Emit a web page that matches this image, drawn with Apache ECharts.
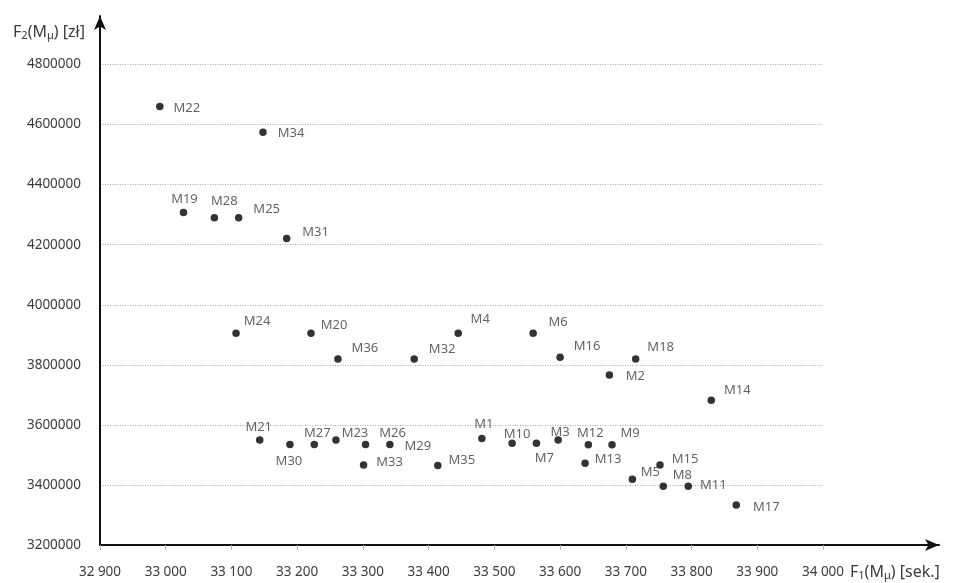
<!DOCTYPE html>
<html>
<head>
<meta charset="utf-8">
<script src="https://cdn.jsdelivr.net/npm/echarts@6/dist/echarts.min.js"></script>
<style>
html,body{margin:0;padding:0;background:#fff;}
#chart{width:955px;height:583px;}
</style>
</head>
<body>
<div id="chart"></div>
<script>
// ---- data ----
const pointNames = ['M1','M2','M3','M4','M5','M6','M7','M8','M9','M10','M11','M12','M13','M14','M15','M16','M17','M18',
  'M19','M20','M21','M22','M23','M24','M25','M26','M27','M28','M29','M30','M31','M32','M33','M34','M35','M36'];
const f1Values = [33481,33675,33597,33445,33710,33559,33564,33757,33679,33527,33795,33643,33638,33830,33752,33600,33868,33715,
  33027,33221,33143,32991,33259,33107,33111,33304,33226,33074,33341,33189,33184,33378,33301,33148,33414,33262];
const f2Values = [3555000,3766000,3550000,3905000,3419000,3905000,3539000,3396000,3534000,3539000,3396000,3534000,3472000,3682000,3466000,3825000,3333000,3819000,
  4307000,3905000,3550000,4660000,3550000,3905000,4290000,3535000,3535000,4290000,3535000,3535000,4221000,3819000,3466000,4574000,3465000,3819000];
const xMin = 32900, xMax = 34000, xStep = 100;
const yMin = 3200000, yMax = 4800000, yStep = 200000;
const xAxisTitle = '{n|F}{s|1}{n|(M}{s|μ}{n|) [sek.]}';
const yAxisTitle = '{n|F}{s|2}{n|(M}{s|μ}{n|) [zł]}';

// ---- label placement (layout only) ----
const labelPlacement = {
  M1:[2,-14], M2:[26,1], M3:[2,-8], M4:[22,-14], M5:[18,-7], M6:[25,-11], M7:[8,15], M8:[19,-11], M9:[18,-11],
  M10:[5,-9], M11:[25,-1], M12:[2,-11], M13:[23,-4], M14:[26,-10], M15:[25,-6], M16:[27,-11], M17:[30,2], M18:[25,-12],
  M19:[1,-13], M20:[23,-8], M21:[-1,-13], M22:[27,2], M23:[19,-7], M24:[21,-12], M25:[28,-8], M26:[27,-11], M27:[3,-11],
  M28:[10,-16], M29:[28,2], M30:[-1,17], M31:[29,-6], M32:[28,-10], M33:[26,-3], M34:[28,1], M35:[24,-5], M36:[27,-11]
};

const FONT = 'Noto Sans';
const TXT = '#3c3c3c';
const richTitle = {
  n: {fontFamily: FONT, fontSize: 16, color: TXT},
  s: {fontFamily: FONT, fontSize: 11, color: TXT, verticalAlign: 'bottom', padding: [7, 0, 0, 0]}
};

const seriesData = pointNames.map((nm, i) => ({
  name: nm,
  value: [f1Values[i], f2Values[i]],
  label: {offset: labelPlacement[nm]}
}));

const chart = echarts.init(document.getElementById('chart'), null, {renderer: 'canvas'});
chart.setOption({
  backgroundColor: '#ffffff',
  animation: false,
  grid: [
    {left: 100, right: 132, top: 64.5, bottom: 38, containLabel: false, outerBoundsMode: 'none'},
    {left: 100, right: 16, top: 16, bottom: 38, containLabel: false, outerBoundsMode: 'none'}
  ],
  xAxis: [
    {
      type: 'value', gridIndex: 0, min: xMin, max: xMax, interval: xStep,
      axisLine: {show: false},
      axisTick: {show: true, length: 5, lineStyle: {color: '#b0b0b0', width: 1}},
      splitLine: {show: false},
      axisLabel: {
        margin: 20, fontFamily: FONT, fontSize: 13.5, color: TXT,
        formatter: v => { const s = String(v); return s.slice(0, s.length - 3) + ' ' + s.slice(-3); }
      },
      name: xAxisTitle, nameLocation: 'end', nameGap: 27,
      nameTextStyle: {align: 'left', verticalAlign: 'top', padding: [18, 0, 0, 0], rich: richTitle}
    },
    {
      type: 'value', gridIndex: 1, min: 0, max: 1,
      axisLine: {show: true, onZero: false, symbol: ['none', 'arrow'], symbolSize: [9, 14], lineStyle: {color: '#111', width: 2}},
      axisTick: {show: false}, axisLabel: {show: false}, splitLine: {show: false}
    }
  ],
  yAxis: [
    {
      type: 'value', gridIndex: 0, min: yMin, max: yMax, interval: yStep,
      axisLine: {show: false},
      axisTick: {show: false},
      splitLine: {show: true, lineStyle: {color: '#a8a8a8', type: [1, 1.5], width: 1}},
      axisLabel: {margin: 19, fontFamily: FONT, fontSize: 13.5, color: TXT, formatter: v => String(v)},
      name: yAxisTitle, nameLocation: 'end', nameGap: 32,
      nameTextStyle: {align: 'right', verticalAlign: 'middle', padding: [0, 15, 0, 0], rich: richTitle}
    },
    {
      type: 'value', gridIndex: 1, min: 0, max: 1,
      axisLine: {show: true, onZero: false, symbol: ['none', 'arrow'], symbolSize: [9, 14], lineStyle: {color: '#111', width: 2}},
      axisTick: {show: false}, axisLabel: {show: false}, splitLine: {show: false}
    }
  ],
  series: [{
    type: 'scatter',
    xAxisIndex: 0, yAxisIndex: 0,
    symbol: 'circle', symbolSize: 7.5,
    itemStyle: {color: '#000'},
    label: {
      show: true, position: 'inside', formatter: '{b}',
      fontFamily: FONT, fontSize: 13, color: TXT,
      align: 'center', verticalAlign: 'middle', textBorderWidth: 0
    },
    emphasis: {disabled: true},
    data: seriesData
  }]
});
</script>
</body>
</html>
